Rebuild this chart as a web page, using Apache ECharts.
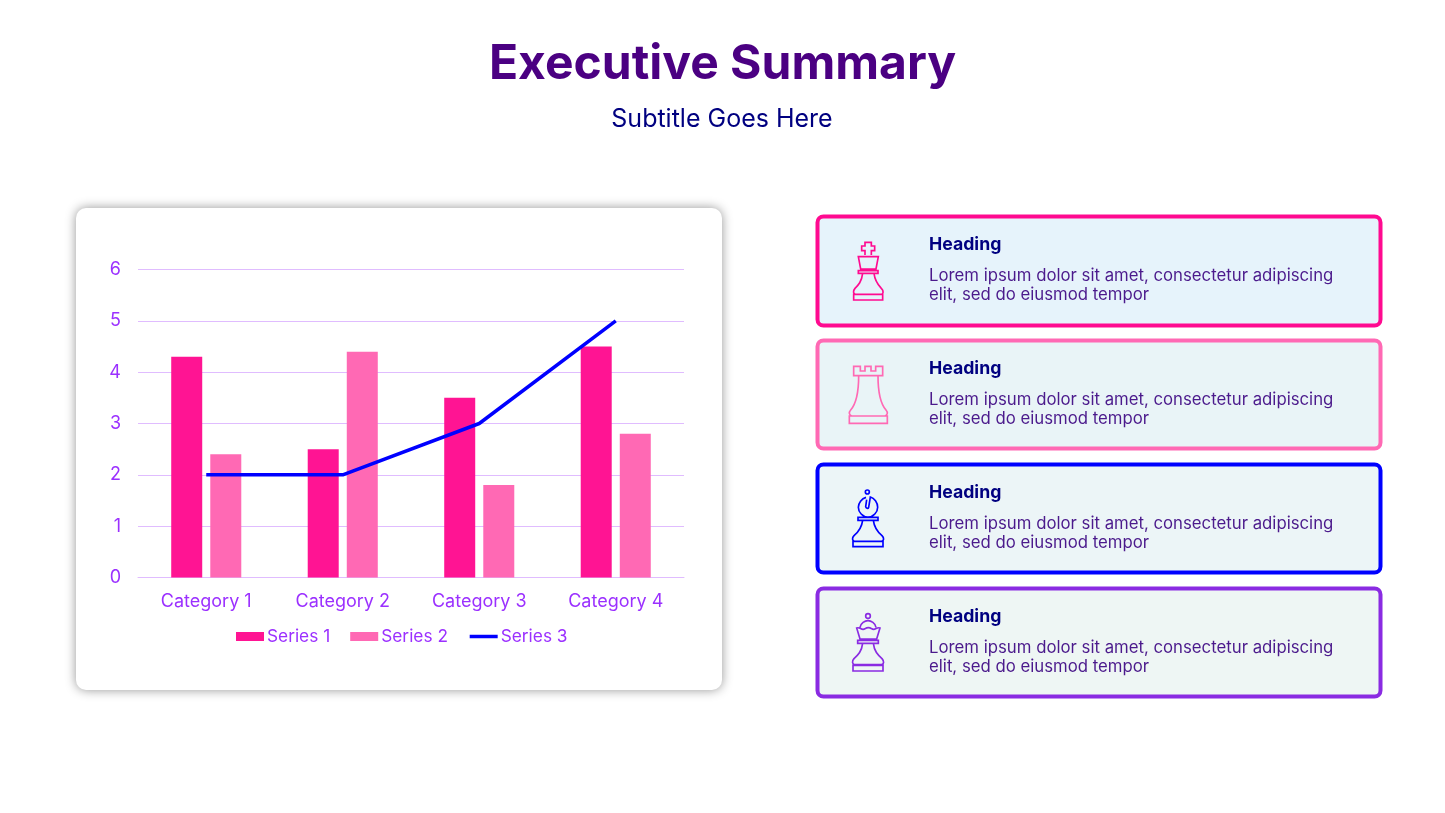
<!DOCTYPE html>
<html><head><meta charset="utf-8">
<style>html,body{margin:0;padding:0;background:#fff}#c{width:1445px;height:813px}</style>
<script src="https://cdn.jsdelivr.net/npm/echarts@6/dist/echarts.min.js"></script>
</head><body><div id="c"></div>
<script>
const categories = ['Category 1','Category 2','Category 3','Category 4'];
const series1 = [4.3,2.5,3.5,4.5];
const series2 = [2.4,4.4,1.8,2.8];
const series3 = [2,2,3,5];
const heading = 'Heading';
const body1 = 'Lorem ipsum dolor sit amet, consectetur adipiscing';
const body2 = 'elit, sed do eiusmod tempor';
const F = 'Inter, "Open Sans", sans-serif';
const axisCol = '#9b30ff';

const icons = {
  king: 'M165 135V122H155V108H165V97H184V108H194V122H184V135M145 140H205L198 177H152ZM145 182H204V190H145ZM158 190C155 215 145 225 135 235C128 243 130 252 136 253H214C220 252 222 243 214 235C205 225 195 215 192 190M131 253H218V270H131Z',
  rook: 'M131 469H151V483H165V469H183V483H197V469H218V497H131ZM146 497C146 550 135 585 122 600C115 608 118 615 125 618H225C232 615 235 608 228 600C215 585 204 550 204 497M118 618H232V640H118Z',
  bishop: 'M178 102A6 6 0 1 1 166 102A6 6 0 1 1 178 102ZM168 118C155 122 145 135 145 148C145 163 158 177 174 177C190 177 203 163 203 148C203 133 193 120 181 117L176 148C174 153 168 151 167 146L170 125M144 178H204V187H144ZM158 187C155 210 145 222 132 233C125 240 127 248 133 250H215C222 248 223 240 216 233C203 222 193 210 190 187M129 250H219V266H129Z',
  queen: 'M181 474A7 7 0 1 1 167 474A7 7 0 1 1 181 474ZM150 508C152 495 165 488 174 488C183 488 196 495 198 508M140 510C150 505 155 520 165 512C172 508 178 508 185 512C195 520 200 505 210 510L200 543H150ZM143 547H205V556H143ZM158 556C155 580 145 590 132 602C125 610 127 618 133 620H215C222 618 223 610 216 602C203 590 193 580 190 556M129 622H219V639H129Z'
};
Object.keys(icons).forEach(k=>echarts.graphic.registerShape('icon_'+k, echarts.graphic.extendPath(icons[k],{})));
const cards = [
  {y:216,h:110,c:'#ff0a90',f:'#e6f3fb',lw:4,icon:'king',oy:210},
  {y:340,h:109,c:'#ff69b4',f:'#e9f4f7',lw:4,icon:'rook',oy:210},
  {y:464,h:109,c:'#0000ff',f:'#ecf5f7',lw:4,icon:'bishop',oy:458},
  {y:588,h:109,c:'#8a2be2',f:'#eef6f4',lw:4,icon:'queen',oy:458}
];
const graphic = [
  {type:'text',z:5,style:{x:722.5,y:65,text:'Executive Summary',font:'bold 48px '+F,fill:'#4b0082',align:'center',verticalAlign:'middle'}},
  {type:'text',z:5,style:{x:722,y:119,text:'Subtitle Goes Here',font:'25px '+F,fill:'#000080',align:'center',verticalAlign:'middle'}},
  {type:'rect',z:-10,shape:{x:76,y:208,width:646,height:482,r:10},style:{fill:'#fff',shadowBlur:11,shadowColor:'rgba(0,0,0,0.42)',shadowOffsetX:0,shadowOffsetY:0}}
];
cards.forEach(c=>{
  graphic.push({type:'rect',z:1,shape:{x:817.5,y:c.y+.5,width:563,height:c.h-1,r:6},style:{fill:c.f,stroke:c.c,lineWidth:c.lw}});
  graphic.push({type:'icon_'+c.icon,x:810,y:c.oy,scaleX:1/3,scaleY:1/3,z:2,style:{fill:'none',stroke:c.c,lineWidth:5}});
  graphic.push({type:'text',z:3,style:{x:929,y:c.y+29,text:heading,font:'bold 17.7px '+F,fill:'#000080',verticalAlign:'middle'}});
  graphic.push({type:'text',z:3,style:{x:929,y:c.y+60,text:body1,font:'16.75px '+F,fill:'#4b1a8c',verticalAlign:'middle'}});
  graphic.push({type:'text',z:3,style:{x:929,y:c.y+79,text:body2,font:'16.75px '+F,fill:'#4b1a8c',verticalAlign:'middle'}});
});
const chart = echarts.init(document.getElementById('c'),null,{renderer:'canvas'});
chart.setOption({
  animation:false,
  backgroundColor:'#fff',
  graphic:{elements:graphic},
  grid:{left:138,right:761,top:269.5,bottom:235.5,containLabel:false},
  legend:{
    top:623,left:231,itemWidth:28,itemHeight:9,itemGap:20,
    data:[{name:'Series 1',icon:'rect'},{name:'Series 2',icon:'rect'},
      {name:'Series 3',itemStyle:{color:'transparent',borderWidth:0,opacity:0},lineStyle:{width:3.5}}],
    textStyle:{color:axisCol,fontSize:17.3,fontFamily:F,padding:[0,0,0,-2]}
  },
  xAxis:{type:'category',data:categories,
    axisLine:{lineStyle:{color:'#e0bcff',width:1}},axisTick:{show:false},
    axisLabel:{color:axisCol,fontSize:18,fontFamily:F,margin:15}},
  yAxis:{type:'value',min:0,max:6,interval:1,
    axisLine:{show:false},axisTick:{show:false},
    splitLine:{lineStyle:{color:'#e0bcff',width:1}},
    axisLabel:{color:axisCol,fontSize:18,fontFamily:F,margin:17,padding:[3,0,0,0]}},
  series:[
    {name:'Series 1',type:'bar',data:series1,barWidth:31,barGap:'26%',itemStyle:{color:'#ff1493'}},
    {name:'Series 2',type:'bar',data:series2,barWidth:31,itemStyle:{color:'#ff69b4'}},
    {name:'Series 3',type:'line',data:series3,symbol:'none',lineStyle:{color:'#0000ff',width:3.5},itemStyle:{color:'#0000ff'}}
  ]
});
</script></body></html>
